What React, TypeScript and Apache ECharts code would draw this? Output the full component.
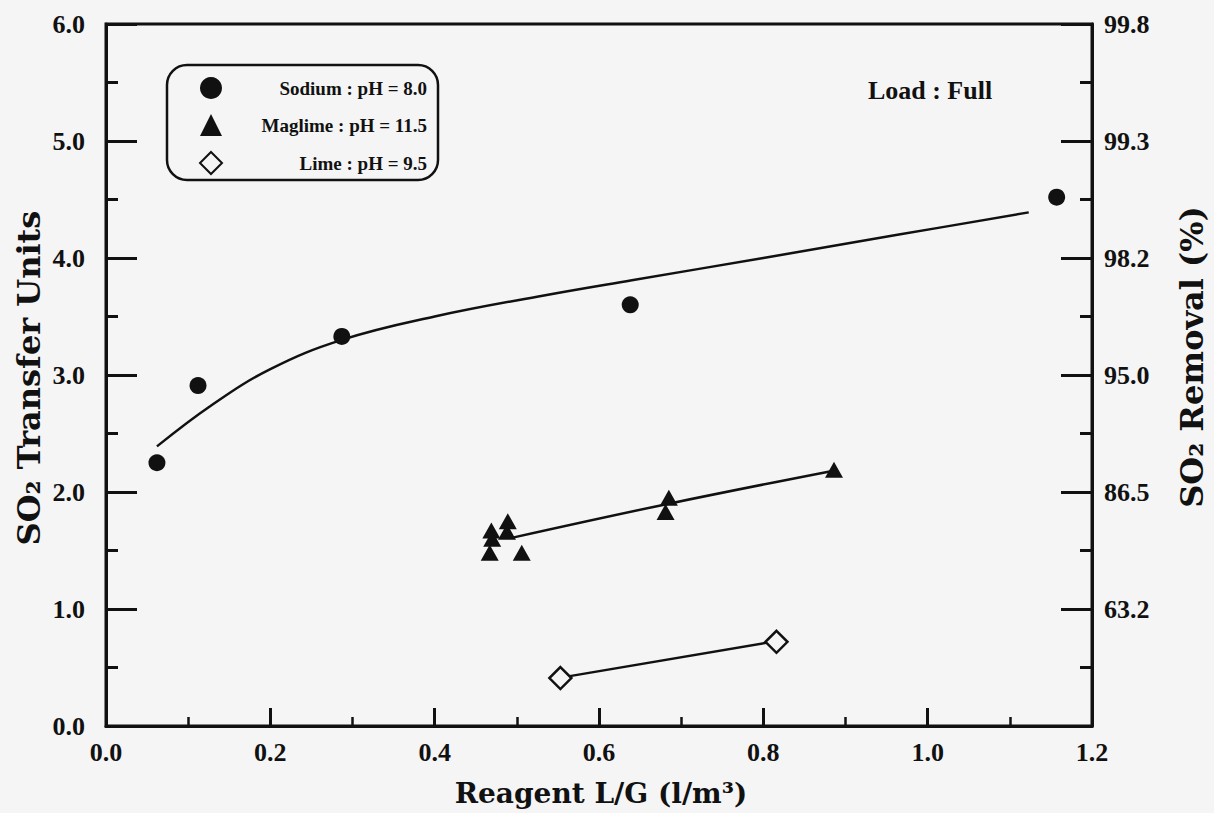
import React, { useEffect, useRef } from "react";
import * as echarts from "echarts";

// ---- data ----
const sodiumPoints: number[][] = [
  [0.062, 2.25],
  [0.112, 2.91],
  [0.287, 3.33],
  [0.638, 3.6],
  [1.157, 4.52],
];
const sodiumFit: number[][] = [
  [0.062, 2.39],
  [0.128, 2.74],
  [0.2, 3.05],
  [0.287, 3.3],
  [0.4, 3.5],
  [0.533, 3.68],
  [0.64, 3.81],
  [0.8, 4.0],
  [0.965, 4.2],
  [1.123, 4.39],
];
const maglimePoints: number[][] = [
  [0.469, 1.67],
  [0.47, 1.6],
  [0.467, 1.48],
  [0.489, 1.75],
  [0.488, 1.66],
  [0.506, 1.48],
  [0.685, 1.95],
  [0.681, 1.83],
  [0.886, 2.19],
];
const maglimeFit: number[][] = [
  [0.495, 1.61],
  [0.685, 1.9],
  [0.884, 2.18],
];
const limePoints: number[][] = [
  [0.553, 0.41],
  [0.816, 0.72],
];
const limeFit: number[][] = [
  [0.559, 0.42],
  [0.811, 0.72],
];
const removalLabels: string[] = ["", "63.2", "86.5", "95.0", "98.2", "99.3", "99.8"];
const seriesNames: string[] = ["Sodium : pH = 8.0", "Maglime : pH = 11.5", "Lime : pH = 9.5"];

const BG = "#f5f5f5";
const INK = "#111";
const SERIF = "'Liberation Serif', 'Times New Roman', serif";
const TITLE_FONT = "'DejaVu Serif', 'Liberation Serif', serif";

export default function App() {
  const ref = useRef<HTMLDivElement>(null);
  useEffect(() => {
    if (!ref.current) return;
    const chart = echarts.init(ref.current, undefined, { renderer: "svg" });
    const tickLabel = {
      color: INK,
      fontFamily: SERIF,
      fontWeight: "bold" as const,
      fontSize: 26,
    };
    const fitLine = (name: string, data: number[][]) => ({
      name,
      type: "line",
      data,
      smooth: 0.4,
      showSymbol: false,
      symbol: "none",
      lineStyle: { color: INK, width: 2.5 },
      z: 2,
      silent: true,
    });
    chart.setOption({
      animation: false,
      backgroundColor: BG,
      grid: {
        left: 106,
        right: 122,
        top: 24,
        bottom: 87,
        show: true,
        borderColor: INK,
        borderWidth: 3,
        backgroundColor: "transparent",
      },
      legend: {
        left: 167,
        top: 65,
        orient: "vertical",
        data: seriesNames,
        selectedMode: false,
        itemWidth: 22,
        itemHeight: 22,
        itemGap: 15,
        padding: [12, 11, 5, 32],
        borderColor: INK,
        borderWidth: 2.5,
        borderRadius: 20,
        backgroundColor: "transparent",
        formatter: (n: string) => `{t|${n}}`,
        textStyle: {
          rich: {
            t: {
              width: 200,
              align: "right",
              fontFamily: SERIF,
              fontWeight: "bold",
              fontSize: 19,
              color: INK,
            },
          },
        },
      },
      xAxis: {
        type: "value",
        min: 0,
        max: 1.2,
        interval: 0.2,
        axisLine: { show: true, onZero: false, lineStyle: { color: INK, width: 3 } },
        axisTick: { show: true, inside: true, length: 18, lineStyle: { color: INK, width: 3 } },
        minorTick: { show: true, splitNumber: 2, length: 9, lineStyle: { color: INK, width: 2.5 } },
        splitLine: { show: false },
        axisLabel: { ...tickLabel, margin: 13, formatter: (v: number) => v.toFixed(1) },
      },
      yAxis: [
        {
          type: "value",
          min: 0,
          max: 6,
          interval: 1,
          position: "left",
          axisLine: { show: true, onZero: false, lineStyle: { color: INK, width: 3 } },
          axisTick: { show: true, inside: true, length: 31, lineStyle: { color: INK, width: 3 } },
          minorTick: { show: true, splitNumber: 2, length: 12, lineStyle: { color: INK, width: 3 } },
          splitLine: { show: false },
          axisLabel: { ...tickLabel, margin: 21, formatter: (v: number) => v.toFixed(1) },
        },
        {
          type: "value",
          min: 0,
          max: 6,
          interval: 1,
          position: "right",
          axisLine: { show: true, onZero: false, lineStyle: { color: INK, width: 3 } },
          axisTick: { show: true, inside: true, length: 31, lineStyle: { color: INK, width: 3 } },
          minorTick: { show: true, splitNumber: 2, length: 12, lineStyle: { color: INK, width: 3 } },
          splitLine: { show: false },
          axisLabel: {
            ...tickLabel,
            margin: 12,
            formatter: (v: number) => removalLabels[Math.round(v)] ?? "",
          },
        },
      ],
      graphic: [
        {
          type: "text",
          x: 930,
          y: 90,
          style: {
            text: "Load : Full",
            fontFamily: SERIF,
            fontWeight: "bold",
            fontSize: 26,
            fill: INK,
            align: "center",
            verticalAlign: "middle",
          },
        },
        {
          type: "text",
          x: 601,
          y: 793,
          style: {
            text: "Reagent L/G (l/m³)",
            fontFamily: TITLE_FONT,
            fontWeight: "bold",
            fontSize: 28,
            fill: INK,
            align: "center",
            verticalAlign: "middle",
          },
        },
        {
          type: "text",
          x: 29,
          y: 378,
          rotation: Math.PI / 2,
          style: {
            text: "SO₂ Transfer Units",
            fontFamily: TITLE_FONT,
            fontWeight: "bold",
            fontSize: 32,
            fill: INK,
            align: "center",
            verticalAlign: "middle",
          },
        },
        {
          type: "text",
          x: 1192,
          y: 357,
          rotation: Math.PI / 2,
          style: {
            text: "SO₂ Removal (%)",
            fontFamily: TITLE_FONT,
            fontWeight: "bold",
            fontSize: 32,
            fill: INK,
            align: "center",
            verticalAlign: "middle",
          },
        },
      ],
      series: [
        fitLine("Sodium fit", sodiumFit),
        fitLine("Maglime fit", maglimeFit),
        fitLine("Lime fit", limeFit),
        {
          name: seriesNames[0],
          type: "scatter",
          data: sodiumPoints,
          symbol: "circle",
          symbolSize: 17,
          itemStyle: { color: INK, opacity: 1 },
          z: 3,
        },
        {
          name: seriesNames[1],
          type: "scatter",
          data: maglimePoints,
          symbol: "triangle",
          symbolSize: [18, 16],
          itemStyle: { color: INK, opacity: 1 },
          z: 3,
        },
        {
          name: seriesNames[2],
          type: "scatter",
          data: limePoints,
          symbol: "diamond",
          symbolSize: 22,
          itemStyle: { color: BG, borderColor: INK, borderWidth: 2.5, opacity: 1 },
          z: 3,
        },
      ],
    });
    return () => chart.dispose();
  }, []);
  return (
    <div
      ref={ref}
      style={{ position: "fixed", left: 0, top: 0, width: 1214, height: 813, background: BG }}
    />
  );
}
